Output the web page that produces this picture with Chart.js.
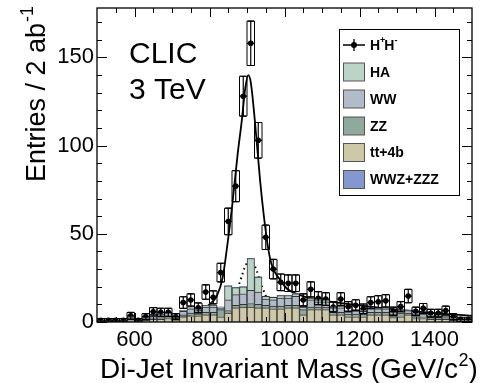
<!DOCTYPE html>
<html><head><meta charset="utf-8">
<script src="https://cdn.jsdelivr.net/npm/chart.js@4.4.1/dist/chart.umd.min.js"></script>
<style>html,body{margin:0;padding:0;background:#fff;}canvas{display:block;}</style>
</head><body>
<canvas id="c" width="483" height="383"></canvas>
<script>
// ---- data ----
const binCenters = [510,530,550,570,590,610,630,650,670,690,710,730,750,770,790,810,830,850,870,890,910,930,950,970,990,1010,1030,1050,1070,1090,1110,1130,1150,1170,1190,1210,1230,1250,1270,1290,1310,1330,1350,1370,1390,1410,1430,1450,1470,1490];
const dataHH = [1,1,1,1,3.5,1,3,5.8,5.5,5.5,3,11,12.5,8,17,14,28,57,77,128,158,103,48,30,22.5,22,22,12.5,18.5,13.5,13,8.5,13,8.7,9.5,7.5,11,11.5,12,6,8.7,14.7,6,7.7,5,5,6.5,3,1.5,1.5];
const errHH = [1,1,1,1,1.9,1,1.7,2.4,2.3,2.3,1.7,3.3,3.5,2.8,4.1,3.7,5.3,7.5,8.8,11.3,12.6,10.1,6.9,5.5,4.7,4.7,4.7,3.5,4.3,3.7,3.6,2.9,3.6,2.9,3.1,2.7,3.3,3.4,3.5,2.4,2.9,3.8,2.4,2.8,2.2,2.2,2.5,1.7,1.2,1.2];
const bgTT  = [0.3,0.3,0.3,0.3,0.5,0.3,0.8,1.5,1.5,2,2,3,3.5,3.5,4,4,3,5,8,8.5,8.5,8,8,7.5,7.5,8,8,4,7,7,7,4,4,3,3,3,4,4,4,2.5,3,4,2,2,1.5,1.5,1.5,1,0.5,0.3];
const bgZZ  = [0.2,0.2,0.2,0.2,1,0.2,0.5,0.8,1,1,0.5,1,1.5,1,1.5,1.5,4,1.5,1.5,1.5,2,2,1.5,1.5,1.5,1.5,1.5,3,1.5,1.5,1.5,2,1.5,1.5,1.5,1.5,1.5,1.5,1.5,2,2,1,1,1,1,1,1,0.5,0.3,0.2];
const bgWW  = [0.2,0.2,0.2,0.2,1.5,0.3,1,2,2,2,0.8,2,2.5,2,3,3,1,6,6,6,7.5,7,3.5,3.5,4.5,4,5,1.5,4,3,3,2,2.5,1.5,2,1.5,2,2,2,1,1.5,1.5,1.5,1.5,1,1,1,0.5,0.3,0.2];
const bgHA  = [0,0,0,0,0,0,0,0,0,0,0,0.5,0.5,0.5,1,1,0.5,8,4,4,18,8.5,1.5,1.5,1.5,1.5,1.5,0.8,1,1,1,0.8,1,0.5,0.5,0.5,0.5,0.5,0.5,0.3,0.3,0.3,0.2,0.2,0.2,0.2,0.2,0,0,0];
const bgWWZ = [0,0,0,0,0,0,0,0,0,0,0,0,0,0,0,0,0,0.1,0.1,0.1,0.1,0.1,0.1,0.1,0.1,0.1,0.1,0.1,0.1,0.1,0.1,0.1,0.1,0.1,0.1,0.1,0.1,0.1,0.1,0,0,0,0,0,0,0,0,0,0,0];
const fitX = [700,750,780,800,820,835,846,860,875,886,895,903,910,921,935,945,957,965,975,988,1006,1032,1068,1121,1228,1300,1400,1500];
const fitY = [1.5,4,7,10,15,25,41,65,95,114,132,140,136,114,80,60,41,33,28,24,19,16,13.4,11.5,8.7,7,5,3.5];
const dotX = [862,870,878,886,894,902,910,918,926,934,942,950,958,966];
const dotY = [14,17,21,26,31,34,35,33,29,24,19,15,11.5,9];
const xTicks = [600,800,1000,1200,1400];
const yTicks = [0,50,100,150];
const legendNames = ['HA','WW','ZZ','tt+4b','WWZ+ZZZ'];

const COL = {HA:'#bad4c7', WW:'#b2bbc8', ZZ:'#8fa99c', TT:'#cfc8a8', WWZ:'#8597cf'};
const FONT = "'Liberation Sans', Arial, Helvetica, sans-serif";
Chart.defaults.font.family = FONT;
Chart.defaults.color = '#000';

const overlay = {
  id: 'overlay',
  afterDatasetsDraw(chart) {
    const ctx = chart.ctx, xs = chart.scales.x2, ys = chart.scales.y, a = chart.chartArea;
    const half = (binCenters[1] - binCenters[0]) / 2;
    ctx.save();
    ctx.beginPath(); ctx.rect(a.left, a.top, a.right - a.left, a.bottom - a.top); ctx.clip();
    ctx.strokeStyle = '#000';
    ctx.lineWidth = 1;
    ctx.beginPath();
    for (let i = 0; i < binCenters.length; i++) {
      const xl = xs.getPixelForValue(binCenters[i] - half);
      const xr = xs.getPixelForValue(binCenters[i] + half);
      const yt = ys.getPixelForValue(dataHH[i] + errHH[i]);
      const yb = ys.getPixelForValue(Math.max(0, dataHH[i] - errHH[i]));
      ctx.rect(xl, yt, xr - xl, yb - yt);
    }
    ctx.stroke();
    ctx.lineWidth = 1.2;
    ctx.beginPath();
    for (let i = 0; i < binCenters.length; i++) {
      const xc = xs.getPixelForValue(binCenters[i]);
      const xl = xs.getPixelForValue(binCenters[i] - half);
      const xr = xs.getPixelForValue(binCenters[i] + half);
      const yv = ys.getPixelForValue(dataHH[i]);
      const yt = ys.getPixelForValue(dataHH[i] + errHH[i]);
      const yb = ys.getPixelForValue(Math.max(0, dataHH[i] - errHH[i]));
      ctx.moveTo(xl, yv); ctx.lineTo(xr, yv);
      ctx.moveTo(xc, yt); ctx.lineTo(xc, yb);
      if (errHH[i] > 1.5) {
        ctx.moveTo(xc - 3, yt); ctx.lineTo(xc + 3, yt);
        ctx.moveTo(xc - 3, yb); ctx.lineTo(xc + 3, yb);
      }
    }
    ctx.stroke();
    ctx.restore();
  },
  afterDraw(chart) {
    const ctx = chart.ctx, xs = chart.scales.x2, ys = chart.scales.y, a = chart.chartArea;
    ctx.save();
    ctx.strokeStyle = '#000'; ctx.lineWidth = 1.3;
    ctx.strokeRect(a.left, a.top, a.right - a.left, a.bottom - a.top);
    ctx.lineWidth = 1;
    ctx.beginPath();
    for (let v = 0; v <= ys.max; v += 10) {
      const y = Math.round(ys.getPixelForValue(v)) + 0.5;
      const len = (v % 50 === 0) ? 10 : 5;
      ctx.moveTo(a.left, y); ctx.lineTo(a.left + len, y);
      ctx.moveTo(a.right, y); ctx.lineTo(a.right - len, y);
    }
    for (let v = 550; v < xs.max; v += 50) {
      const x = Math.round(xs.getPixelForValue(v)) + 0.5;
      const len = (v % 200 === 0) ? 9 : 5;
      ctx.moveTo(x, a.bottom); ctx.lineTo(x, a.bottom - len);
      ctx.moveTo(x, a.top); ctx.lineTo(x, a.top + len);
    }
    ctx.stroke();

    ctx.fillStyle = '#000';
    ctx.textAlign = 'left'; ctx.textBaseline = 'alphabetic';
    ctx.font = '30px ' + FONT;
    ctx.fillText('CLIC', 129, 63);
    ctx.fillText('3 TeV', 129, 99);

    ctx.font = '28px ' + FONT;
    let t = 'Di-Jet Invariant Mass (GeV/c';
    let x = 100;
    ctx.fillText(t, x, 378); x += ctx.measureText(t).width;
    ctx.font = '18px ' + FONT;
    ctx.fillText('2', x + 0.5, 366); x += ctx.measureText('2').width + 0.5;
    ctx.font = '28px ' + FONT;
    ctx.fillText(')', x, 378);

    ctx.save();
    ctx.translate(45, 182); ctx.rotate(-Math.PI / 2);
    ctx.font = '27px ' + FONT;
    t = 'Entries / 2 ab';
    ctx.fillText(t, 0, 0);
    let w = ctx.measureText(t).width;
    ctx.font = '18px ' + FONT;
    ctx.fillText('-1', w + 1, -12);
    ctx.restore();

    const L = {x: 339, y: 29, w: 120, h: 166};
    ctx.fillStyle = '#fff';
    ctx.fillRect(L.x, L.y, L.w, L.h);
    ctx.strokeStyle = '#000'; ctx.lineWidth = 1;
    ctx.strokeRect(L.x + 0.5, L.y + 0.5, L.w, L.h);
    const rowY = [45, 72, 99, 126, 152.5, 179.5];
    ctx.lineWidth = 1.3;
    ctx.beginPath();
    ctx.moveTo(343, rowY[0]); ctx.lineTo(365, rowY[0]);
    ctx.moveTo(354, rowY[0] - 6); ctx.lineTo(354, rowY[0] + 6);
    ctx.stroke();
    ctx.fillStyle = '#000';
    ctx.beginPath(); ctx.arc(354, rowY[0], 3, 0, Math.PI * 2); ctx.fill();
    ctx.textBaseline = 'middle';
    ctx.font = 'bold 14px ' + FONT;
    x = 370;
    ctx.fillText('H', x, rowY[0] + 1); x += ctx.measureText('H').width;
    ctx.font = 'bold 9px ' + FONT;
    ctx.fillText('+', x, rowY[0] - 4); x += ctx.measureText('+').width - 1;
    ctx.font = 'bold 14px ' + FONT;
    ctx.fillText('H', x, rowY[0] + 1); x += ctx.measureText('H').width;
    ctx.font = 'bold 9px ' + FONT;
    ctx.fillText('-', x, rowY[0] - 4);
    const cols = [COL.HA, COL.WW, COL.ZZ, COL.TT, COL.WWZ];
    for (let i = 0; i < legendNames.length; i++) {
      const yc = rowY[i + 1];
      ctx.fillStyle = cols[i];
      ctx.fillRect(343.5, yc - 9, 21, 18);
      ctx.strokeStyle = '#555'; ctx.lineWidth = 1;
      ctx.strokeRect(343.5, yc - 9, 21, 18);
      ctx.fillStyle = '#000';
      ctx.font = 'bold 14px ' + FONT;
      ctx.fillText(legendNames[i], 370, yc + 1);
    }
    ctx.restore();
  }
};

const barDs = (label, data, color, bw) => ({
  label, data, backgroundColor: color, borderColor: '#333333', borderWidth: bw,
  stack: 'stk', xAxisID: 'x', yAxisID: 'y'
});

new Chart(document.getElementById('c'), {
  type: 'bar',
  data: {
    labels: binCenters.map(String),
    datasets: [
      barDs('tt+4b', bgTT, COL.TT, 1),
      barDs('ZZ', bgZZ, COL.ZZ, 1),
      barDs('WW', bgWW, COL.WW, 1),
      barDs('HA', bgHA, COL.HA, 1),
      barDs('WWZ+ZZZ', bgWWZ, COL.WWZ, 0),
      {type: 'line', label: 'fit', data: fitX.map((v, i) => ({x: v, y: fitY[i]})),
        xAxisID: 'x2', yAxisID: 'y', stack: 'fit', borderColor: '#000', borderWidth: 1.8,
        pointRadius: 0, cubicInterpolationMode: 'monotone', fill: false},
      {type: 'line', label: 'dots', data: dotX.map((v, i) => ({x: v, y: dotY[i]})),
        xAxisID: 'x2', yAxisID: 'y', stack: 'dots', borderColor: '#000', borderWidth: 2,
        borderDash: [1.5, 3.5], pointRadius: 0, cubicInterpolationMode: 'monotone', fill: false},
      {type: 'line', label: 'H+H-', data: binCenters.map((v, i) => ({x: v, y: dataHH[i]})),
        xAxisID: 'x2', yAxisID: 'y', stack: 'pts', showLine: false, pointRadius: 2.8,
        pointBackgroundColor: '#000', pointBorderWidth: 0, fill: false}
    ]
  },
  options: {
    responsive: false, animation: false, devicePixelRatio: 1,
    datasets: {bar: {categoryPercentage: 1.0, barPercentage: 1.0, grouped: false}},
    layout: {padding: {top: 8, right: 11, left: 0, bottom: 0}},
    plugins: {legend: {display: false}, tooltip: {enabled: false}},
    scales: {
      x: {type: 'category', display: false, stacked: true, offset: true},
      x2: {type: 'linear', position: 'bottom', min: 500, max: 1500, offset: false,
        grid: {display: false, drawTicks: false, offset: false}, border: {display: false},
        ticks: {color: '#000', font: {size: 22}, padding: 5, maxRotation: 0, autoSkip: false,
          callback: v => String(v)},
        afterBuildTicks(s) { s.ticks = xTicks.map(v => ({value: v})); },
        afterFit(s) { s.height = 61; s.paddingLeft = 0; s.paddingRight = 0; }},
      y: {type: 'linear', min: 0, max: 178, stacked: true,
        grid: {display: false, drawTicks: false}, border: {display: false},
        ticks: {color: '#000', font: {size: 22}, padding: 3},
        afterBuildTicks(s) { s.ticks = yTicks.map(v => ({value: v})); },
        afterFit(s) { s.width = 97; s.paddingTop = 0; s.paddingBottom = 0; }}
    }
  },
  plugins: [overlay]
});
</script>
</body></html>
